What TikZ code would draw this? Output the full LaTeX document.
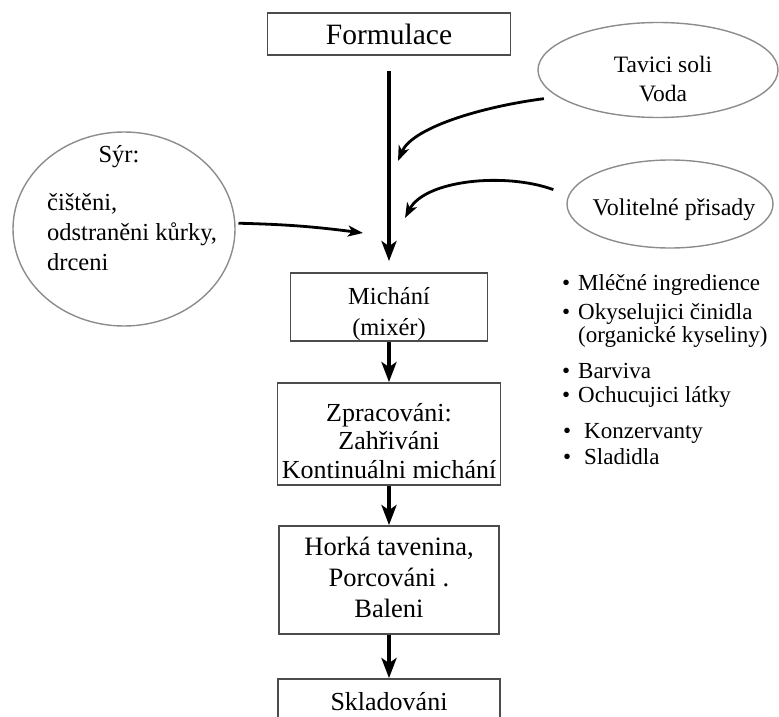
\documentclass[tikz,border=0pt]{standalone}
\usepackage{fontspec}
\setmainfont{Liberation Serif}
\usetikzlibrary{arrows.meta,shapes.geometric}
\tikzset{stepbox/.style={draw=black!70, line width=1.8pt, fill=white, inner sep=0pt}}
\tikzset{oval/.style={ellipse, draw=black!45, line width=1.4pt, inner sep=0pt}}
\tikzset{boxtext/.style={align=center, inner sep=0pt, font=\fontsize{26}{30}\selectfont}}
\tikzset{ovaltext/.style={align=center, inner sep=0pt, font=\fontsize{23.5}{29}\selectfont}}
\tikzset{itemtext/.style={anchor=west, inner sep=0pt, font=\fontsize{23}{27}\selectfont}}
\tikzset{flow/.style={line width=4pt, -{Stealth[length=20pt,width=15pt,inset=5pt]}}}
\tikzset{feed/.style={line width=2.8pt, -{Stealth[length=15pt,width=11pt,inset=4pt]}}}
\newcommand{\itm}{\makebox[0pt][r]{\textbullet\hspace{8pt}}}

\begin{document}
\begin{tikzpicture}[x=1pt,y=-1pt]
  \useasboundingbox (0,0) rectangle (779,717);

  % hlavni linka
  \node[stepbox, minimum width=243pt, minimum height=42pt] (fo) at (389,34) {};
  \node[boxtext, font=\fontsize{29.5}{34}\selectfont] (fot) at (389,34) {Formulace};

  \node[stepbox, minimum width=197pt, minimum height=68pt] (mi) at (389,307) {};
  \node[boxtext, font=\fontsize{24.5}{31}\selectfont] (mit) at (389,314) {Michání\\(mixér)};

  \node[stepbox, minimum width=223pt, minimum height=102pt] (zp) at (389,434) {};
  \node[boxtext, font=\fontsize{26}{28.5}\selectfont] (zpt) at (389,441)
    {Zpracováni:\\Zahřiváni\\Kontinuálni michání};

  \node[stepbox, minimum width=220pt, minimum height=108pt] (ho) at (389,580) {};
  \node[boxtext, font=\fontsize{26.5}{31}\selectfont] (hot) at (389,577)
    {Horká tavenina,\\Porcováni .\\Baleni};

  \node[stepbox, minimum width=222pt, minimum height=80pt] (sk) at (389,719) {};
  \node[boxtext] (skt) at (389,702) {Skladováni};

  % prisady
  \node[oval, minimum width=240pt, minimum height=95pt] (tav) at (658,70) {};
  \node[ovaltext] (tavt) at (663,79) {Tavici soli\\Voda};

  \node[oval, minimum width=206pt, minimum height=88pt] (vol) at (670,204) {};
  \node[ovaltext, font=\fontsize{24}{29}\selectfont] (volt) at (674,210) {Volitelné přisady};

  \node[oval, minimum width=222pt, minimum height=194pt] (sir) at (124,229) {};
  \node[ovaltext, font=\fontsize{24.5}{30}\selectfont] (sirh) at (119,157) {Sýr:};
  \node[ovaltext, font=\fontsize{24.5}{30}\selectfont, align=left, anchor=west] (sirt) at (47,232)
    {čištěni,\\odstraněni kůrky,\\drceni};

  % seznam
  \node[itemtext] (it1) at (578,285) {\itm Mléčné ingredience};
  \node[itemtext] (it2) at (578,314) {\itm Okyselujici činidla};
  \node[itemtext] (it3) at (578,337) {(organické kyseliny)};
  \node[itemtext] (it4) at (578,371) {\itm Barviva};
  \node[itemtext] (it5) at (578,397) {\itm Ochucujici látky};
  \node[itemtext] (it6) at (584,433) {\makebox[0pt][r]{\textbullet\hspace{13pt}}Konzervanty};
  \node[itemtext] (it7) at (584,457) {\makebox[0pt][r]{\textbullet\hspace{13pt}}Sladidla};

  % sipky
  \coordinate (in1) at (398,161);
  \coordinate (in2) at (405,218);
  \coordinate (in3) at (363,233);

  \draw[flow, shorten <=15pt, shorten >=11pt] (fo) -- (mi);
  \draw[flow] (mi) -- (zp);
  \draw[flow] (zp) -- (ho);
  \draw[flow] (ho) -- (sk);

  \draw[feed, shorten <=14pt] (tav.195) .. controls (480,107) and (412,128) .. (in1);
  \draw[feed, shorten <=16pt] (vol.175) .. controls (505,172) and (425,180) .. (in2);
  \draw[feed, shorten <=3pt] (sir.3) to[bend left=3] (in3);

\end{tikzpicture}
\end{document}
